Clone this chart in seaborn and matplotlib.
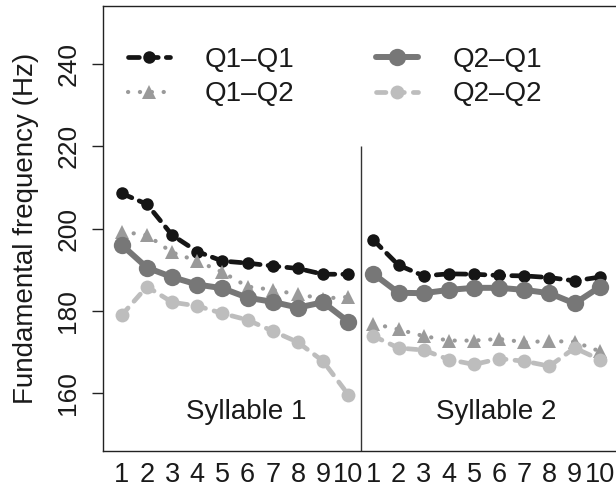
import matplotlib
matplotlib.use("Agg")
import matplotlib.pyplot as plt
import seaborn as sns
import pandas as pd
from matplotlib.lines import Line2D

# ---- data ----
positions = list(range(1, 21))
tick_labels = [str(i) for i in range(1, 11)] * 2
syllable = [1] * 10 + [2] * 10
yticks = [160, 180, 200, 220, 240]

q1q1 = [208.5, 205.9, 198.4, 194.4, 192.1, 191.6, 190.9, 190.3, 188.9, 188.9,
        197.2, 191.1, 188.5, 189.0, 188.9, 188.6, 188.5, 188.1, 187.3, 188.2]
q1q2 = [199.2, 198.4, 194.2, 192.1, 189.4, 185.9, 185.1, 184.0, 183.0, 183.4,
        176.9, 175.5, 173.9, 172.8, 172.8, 173.2, 172.4, 172.7, 172.5, 170.2]
q2q1 = [196.0, 190.5, 188.2, 186.4, 185.5, 183.2, 182.2, 180.8, 182.1, 177.4,
        189.0, 184.4, 184.3, 185.1, 185.6, 185.6, 185.1, 184.3, 181.8, 185.8]
q2q2 = [179.0, 185.9, 182.1, 181.2, 179.4, 177.8, 175.1, 172.4, 167.8, 159.7,
        173.9, 171.0, 170.5, 168.2, 167.0, 168.4, 167.8, 166.6, 171.0, 168.2]

series_names = ["Q1\u2013Q1", "Q1\u2013Q2", "Q2\u2013Q1", "Q2\u2013Q2"]
series_values = [q1q1, q1q2, q2q1, q2q2]
segment_labels = ["Syllable 1", "Syllable 2"]

# ---- styles ----
styles = {
    "Q1\u2013Q1": dict(color="#151515", marker="o", markersize=9, lw=3.4,
                       linestyle=(0, (2.3, 1.7))),
    "Q1\u2013Q2": dict(color="#9a9a9a", marker="^", markersize=10, lw=3.0,
                       linestyle=(0, (0.05, 2.8))),
    "Q2\u2013Q1": dict(color="#777777", marker="o", markersize=12.5, lw=4.3,
                       linestyle="-"),
    "Q2\u2013Q2": dict(color="#bdbdbd", marker="o", markersize=10, lw=3.4,
                       linestyle=(0, (2.0, 1.9))),
}

sns.set_theme(style="white")
plt.rcParams["font.family"] = ["Liberation Sans", "DejaVu Sans"]

W, H = 616, 487
fig = plt.figure(figsize=(W / 100, H / 100), dpi=100)
left, right, top, bottom = 102.7, 618.9, 6, 451
ax = fig.add_axes([left / W, 1 - bottom / H, (right - left) / W, (bottom - top) / H])

for name, vals in zip(series_names, series_values):
    df = pd.DataFrame({"pos": positions, "f0": vals, "syl": syllable})
    st = styles[name]
    sns.lineplot(data=df, x="pos", y="f0", units="syl", estimator=None,
                 color=st["color"], marker=st["marker"], markersize=st["markersize"],
                 markeredgewidth=0, lw=st["lw"], linestyle=st["linestyle"],
                 dash_capstyle="round", solid_capstyle="round",
                 legend=False, ax=ax)

ax.set_xlim(0.24, 20.76)
ax.set_ylim(146, 254)

# divider between syllables
ax.vlines(10.5, 146, 220, color="#333333", lw=1.0)

for lab, xc in zip(segment_labels, [5.95, 15.9]):
    ax.text(xc, 155.4, lab, ha="center", va="center", fontsize=20, color="#1a1a1a")

ax.set_xticks(positions)
ax.set_xticklabels(tick_labels)
ax.set_yticks(yticks)
ax.set_yticklabels([str(v) for v in yticks])
ax.tick_params(axis="x", length=0, pad=8, labelsize=19.5, labelcolor="#1a1a1a")
ax.tick_params(axis="y", left=True, length=8, width=1, direction="out",
               pad=8, labelsize=19, labelrotation=90, color="#222222",
               labelcolor="#1a1a1a")
for t in ax.get_yticklabels():
    t.set_va("center")

ax.set_xlabel("")
ax.set_ylabel("Fundamental frequency (Hz)", fontsize=20, color="#1a1a1a")
ax.yaxis.set_label_coords((39 - left) / (right - left), 0.5)

for s in ["left", "top", "bottom"]:
    ax.spines[s].set_color("#222222")
    ax.spines[s].set_linewidth(1.0)
ax.spines["right"].set_visible(False)

handles = []
for name in series_names:
    st = styles[name]
    handles.append(Line2D([], [], color=st["color"], marker=st["marker"],
                          markersize=st["markersize"], markeredgewidth=0,
                          lw=st["lw"], linestyle=st["linestyle"],
                          dash_capstyle="round", solid_capstyle="round"))
leg = fig.legend(handles, series_names, ncol=2, loc="upper left",
                 bbox_to_anchor=(128 / W, 1 - 47 / H), frameon=False,
                 fontsize=20, handlelength=1.5, handletextpad=1.25,
                 columnspacing=2.95, labelspacing=0.3, borderpad=0,
                 borderaxespad=0)
for t in leg.get_texts():
    t.set_color("#1a1a1a")

fig.savefig("out.png", dpi=100)
